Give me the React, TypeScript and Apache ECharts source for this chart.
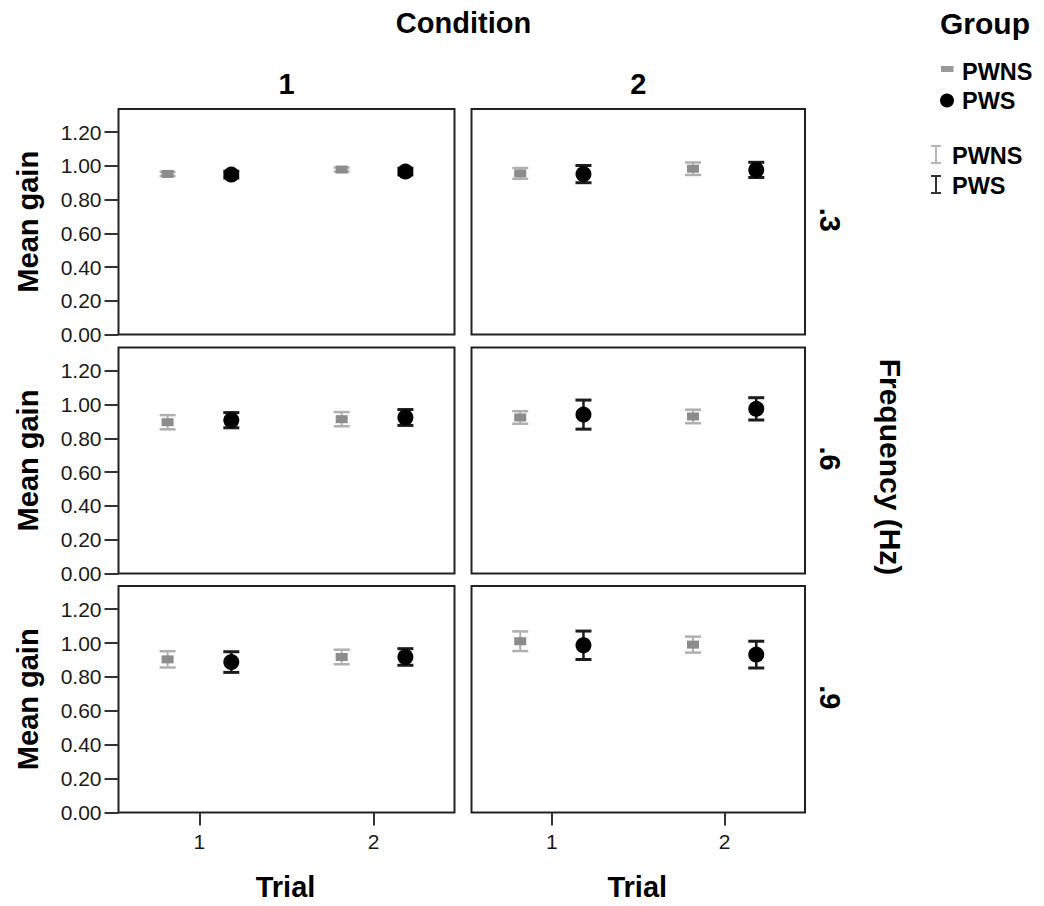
import { useEffect, useRef } from 'react';
import * as echarts from 'echarts';

// Facets and axes
const CONDITIONS = ['1', '2'];
const FREQUENCIES = ['.3', '.6', '.9'];
const TRIALS = [1, 2];
const Y_TICKS = [0, 0.2, 0.4, 0.6, 0.8, 1.0, 1.2];
const GROUPS = ['PWNS', 'PWS'];

// Mean gain, indexed [frequency][condition][trial]
const PWNS_MEAN = [
  [[0.952, 0.978], [0.955, 0.983]],
  [[0.895, 0.913], [0.923, 0.929]],
  [[0.904, 0.918], [1.011, 0.991]],
];
const PWS_MEAN = [
  [[0.948, 0.966], [0.951, 0.976]],
  [[0.907, 0.923], [0.94, 0.974]],
  [[0.888, 0.918], [0.987, 0.932]],
];

// Error bar half-widths, indexed [frequency][condition][trial]
const PWNS_ERR = [
  [[0.012, 0.012], [0.032, 0.037]],
  [[0.042, 0.042], [0.037, 0.04]],
  [[0.048, 0.043], [0.058, 0.047]],
];
const PWS_ERR = [
  [[0.02, 0.02], [0.051, 0.045]],
  [[0.045, 0.047], [0.086, 0.066]],
  [[0.061, 0.049], [0.084, 0.079]],
];

const MEANS = [PWNS_MEAN, PWS_MEAN];
const ERRS = [PWNS_ERR, PWS_ERR];

// Panel geometry (px)
const COL_LEFT = [118.5, 471.5];
const COL_WIDTH = [336, 333.5];
const ROW_TOP = [109, 347.5, 586];
const ROW_HEIGHT = [225.5, 226, 226.5];

// Styling per group
const GROUP_DODGE = [-0.183, 0.183];
const MARKER_COLOR = ['#8c8c8c', '#000000'];
const BAR_COLOR = ['#b0b0b0', '#1c1c1c'];
const BAR_WIDTH = [2, 2.5];
const CAP_HALF = 8;

const FONT = '"Liberation Sans", Arial, sans-serif';
const BOLD = (size: number) => `bold ${size}px ${FONT}`;

function buildOption() {
  const grid: any[] = [];
  const xAxis: any[] = [];
  const yAxis: any[] = [];
  const series: any[] = [];

  FREQUENCIES.forEach((_, r) => {
    CONDITIONS.forEach((__, c) => {
      const idx = grid.length;
      grid.push({
        left: COL_LEFT[c],
        top: ROW_TOP[r],
        width: COL_WIDTH[c],
        height: ROW_HEIGHT[r],
        show: true,
        borderColor: '#222',
        borderWidth: 2,
        backgroundColor: '#fff',
        containLabel: false,
      });
      const bottomRow = r === FREQUENCIES.length - 1;
      const leftCol = c === 0;
      xAxis.push({
        type: 'value',
        gridIndex: idx,
        min: 0.535,
        max: 2.465,
        splitLine: { show: false },
        axisLine: { show: false },
        axisTick: {
          show: bottomRow,
          customValues: TRIALS,
          length: 13,
          lineStyle: { color: '#333', width: 2 },
        },
        axisLabel: {
          show: bottomRow,
          customValues: TRIALS,
          margin: 18,
          fontSize: 21,
          fontFamily: FONT,
          color: '#1a1a1a',
          formatter: (v: number) => String(v),
        },
      });
      yAxis.push({
        type: 'value',
        gridIndex: idx,
        min: 0,
        max: 1.337,
        splitLine: { show: false },
        axisLine: { show: false },
        axisTick: {
          show: leftCol,
          customValues: Y_TICKS,
          length: 14,
          lineStyle: { color: '#333', width: 2 },
        },
        axisLabel: {
          show: leftCol,
          customValues: Y_TICKS,
          margin: 17,
          fontSize: 21,
          fontFamily: FONT,
          color: '#1a1a1a',
          formatter: (v: number) => v.toFixed(2),
        },
      });

      GROUPS.forEach((name, g) => {
        const mean = MEANS[g][r][c];
        const err = ERRS[g][r][c];
        series.push({
          type: 'custom',
          name,
          xAxisIndex: idx,
          yAxisIndex: idx,
          z: 2,
          encode: { x: 0, y: [1, 2] },
          data: TRIALS.map((t, ti) => [t + GROUP_DODGE[g], mean[ti] - err[ti], mean[ti] + err[ti]]),
          renderItem: (_p: any, api: any) => {
            const x = api.value(0);
            const hi = api.coord([x, api.value(2)]);
            const lo = api.coord([x, api.value(1)]);
            const style = { stroke: BAR_COLOR[g], lineWidth: BAR_WIDTH[g] };
            const capStyle = { stroke: BAR_COLOR[g], lineWidth: BAR_WIDTH[g] + 0.5 };
            return {
              type: 'group',
              children: [
                { type: 'line', shape: { x1: hi[0], y1: hi[1], x2: lo[0], y2: lo[1] }, style },
                { type: 'line', shape: { x1: hi[0] - CAP_HALF, y1: hi[1], x2: hi[0] + CAP_HALF, y2: hi[1] }, style: capStyle },
                { type: 'line', shape: { x1: lo[0] - CAP_HALF, y1: lo[1], x2: lo[0] + CAP_HALF, y2: lo[1] }, style: capStyle },
              ],
            };
          },
        });
        series.push({
          type: 'scatter',
          name,
          xAxisIndex: idx,
          yAxisIndex: idx,
          z: 3,
          symbol: g === 0 ? 'rect' : 'circle',
          symbolSize: g === 0 ? [12, 8] : 16,
          itemStyle: { color: MARKER_COLOR[g], opacity: 1 },
          data: TRIALS.map((t, ti) => [t + GROUP_DODGE[g], mean[ti]]),
        });
      });
    });
  });

  const rowCenter = (r: number) => ROW_TOP[r] + ROW_HEIGHT[r] / 2;
  const colCenter = (c: number) => COL_LEFT[c] + COL_WIDTH[c] / 2;
  const txt = (text: string, x: number, y: number, font: string, rotation = 0, align = 'center') => ({
    type: 'text',
    x,
    y,
    rotation,
    style: { text, font, fill: '#000', align, verticalAlign: 'middle' },
  });

  const graphic: any[] = [
    txt('Condition', 463.5, 23, BOLD(29)),
    ...CONDITIONS.map((label, c) => txt(label, colCenter(c), 84, BOLD(29))),
    ...CONDITIONS.map((_, c) => txt('Trial', colCenter(c) - 1, 886.5, BOLD(29))),
    ...FREQUENCIES.map((_, r) => txt('Mean gain', 27.5, rowCenter(r), BOLD(29), Math.PI / 2)),
    ...FREQUENCIES.map((label, r) => txt(label, 830, rowCenter(r) - 2, BOLD(29), -Math.PI / 2)),
    txt('Frequency (Hz)', 890, 467, BOLD(30), -Math.PI / 2),
    // Group legend
    txt('Group', 940, 23, BOLD(30), 0, 'left'),
    { type: 'rect', shape: { x: 941, y: 66, width: 12.5, height: 6 }, style: { fill: '#999' } },
    txt('PWNS', 962, 72, BOLD(23.5), 0, 'left'),
    { type: 'circle', shape: { cx: 947, cy: 100.5, r: 7 }, style: { fill: '#000' } },
    txt('PWS', 962, 101, BOLD(23.5), 0, 'left'),
    {
      type: 'group',
      children: [
        { type: 'line', shape: { x1: 936, y1: 146, x2: 936, y2: 163 }, style: { stroke: '#b5b5b5', lineWidth: 2 } },
        { type: 'line', shape: { x1: 931, y1: 146, x2: 941, y2: 146 }, style: { stroke: '#b5b5b5', lineWidth: 2 } },
        { type: 'line', shape: { x1: 931, y1: 163, x2: 941, y2: 163 }, style: { stroke: '#b5b5b5', lineWidth: 2 } },
        { type: 'line', shape: { x1: 936, y1: 176, x2: 936, y2: 193 }, style: { stroke: '#333', lineWidth: 2 } },
        { type: 'line', shape: { x1: 931, y1: 176, x2: 941, y2: 176 }, style: { stroke: '#333', lineWidth: 2 } },
        { type: 'line', shape: { x1: 931, y1: 193, x2: 941, y2: 193 }, style: { stroke: '#333', lineWidth: 2 } },
      ],
    },
    txt('PWNS', 952, 155.5, BOLD(23.5), 0, 'left'),
    txt('PWS', 952, 186, BOLD(23.5), 0, 'left'),
  ];

  return {
    animation: false,
    backgroundColor: '#fff',
    grid,
    xAxis,
    yAxis,
    series,
    graphic,
  };
}

export default function App() {
  const ref = useRef<HTMLDivElement>(null);
  useEffect(() => {
    if (!ref.current) return;
    const chart = echarts.init(ref.current, null, { renderer: 'svg' });
    chart.setOption(buildOption());
    return () => chart.dispose();
  }, []);
  return (
    <div
      ref={ref}
      style={{ position: 'absolute', left: 0, top: 0, width: 1044, height: 906, background: '#fff' }}
    />
  );
}
